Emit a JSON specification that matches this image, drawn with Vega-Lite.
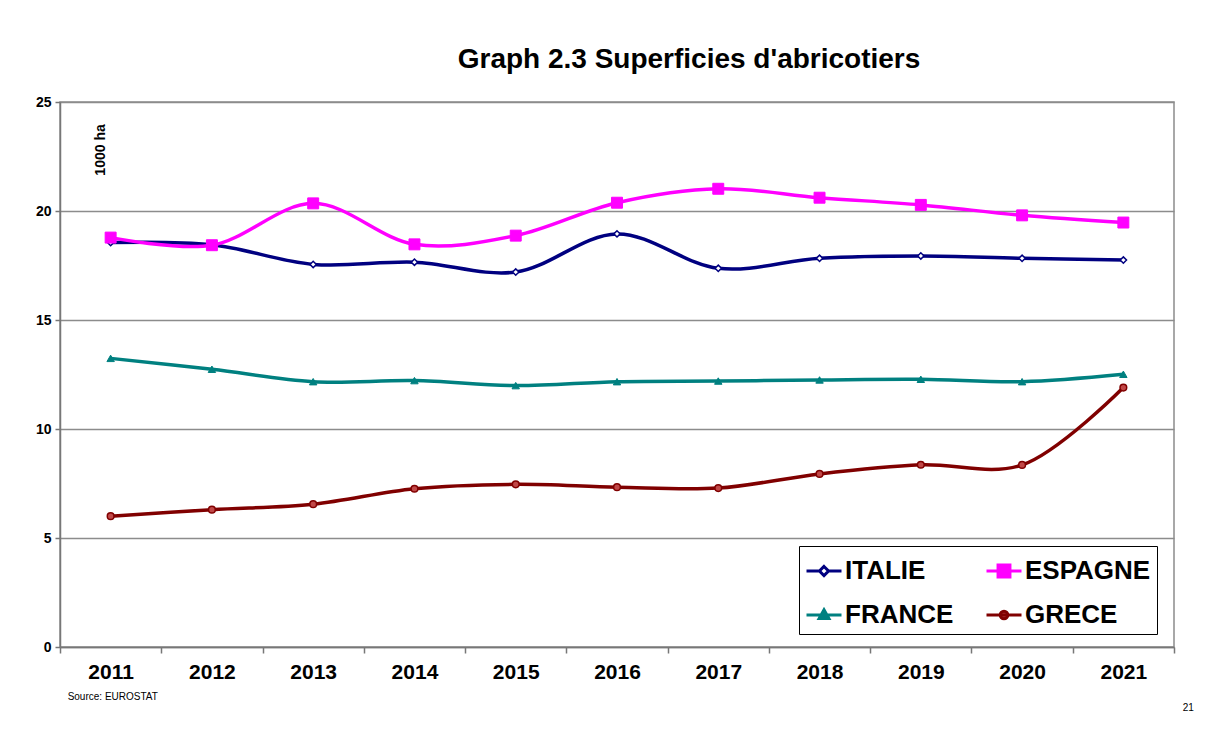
{
  "$schema": "https://vega.github.io/schema/vega-lite/v6.json",
  "width": 1114,
  "height": 545,
  "autosize": {"type": "none"},
  "padding": {"left": 60, "top": 102, "right": 40, "bottom": 86},
  "background": "white",
  "config": {
    "font": "Liberation Sans",
    "view": {"stroke": "#8c8c8c", "strokeWidth": 1.5}
  },
  "title": {
    "text": "Graph 2.3 Superficies d'abricotiers",
    "font": "Liberation Sans",
    "fontSize": 28,
    "fontWeight": "bold",
    "color": "black",
    "anchor": "middle",
    "frame": "group",
    "dx": 72,
    "offset": -1,
    "baseline": "alphabetic"
  },
  "datasets": {
    "surfaces": [
      {"annee": "2011", "pays": "ITALIE", "surface": 18.55},
      {"annee": "2012", "pays": "ITALIE", "surface": 18.45},
      {"annee": "2013", "pays": "ITALIE", "surface": 17.55},
      {"annee": "2014", "pays": "ITALIE", "surface": 17.65},
      {"annee": "2015", "pays": "ITALIE", "surface": 17.2},
      {"annee": "2016", "pays": "ITALIE", "surface": 18.95},
      {"annee": "2017", "pays": "ITALIE", "surface": 17.37},
      {"annee": "2018", "pays": "ITALIE", "surface": 17.83},
      {"annee": "2019", "pays": "ITALIE", "surface": 17.94},
      {"annee": "2020", "pays": "ITALIE", "surface": 17.83},
      {"annee": "2021", "pays": "ITALIE", "surface": 17.75},
      {"annee": "2011", "pays": "ESPAGNE", "surface": 18.78},
      {"annee": "2012", "pays": "ESPAGNE", "surface": 18.43},
      {"annee": "2013", "pays": "ESPAGNE", "surface": 20.35},
      {"annee": "2014", "pays": "ESPAGNE", "surface": 18.47},
      {"annee": "2015", "pays": "ESPAGNE", "surface": 18.87},
      {"annee": "2016", "pays": "ESPAGNE", "surface": 20.38},
      {"annee": "2017", "pays": "ESPAGNE", "surface": 21.02},
      {"annee": "2018", "pays": "ESPAGNE", "surface": 20.61},
      {"annee": "2019", "pays": "ESPAGNE", "surface": 20.28},
      {"annee": "2020", "pays": "ESPAGNE", "surface": 19.8},
      {"annee": "2021", "pays": "ESPAGNE", "surface": 19.47},
      {"annee": "2011", "pays": "FRANCE", "surface": 13.24},
      {"annee": "2012", "pays": "FRANCE", "surface": 12.74},
      {"annee": "2013", "pays": "FRANCE", "surface": 12.17},
      {"annee": "2014", "pays": "FRANCE", "surface": 12.22},
      {"annee": "2015", "pays": "FRANCE", "surface": 11.99},
      {"annee": "2016", "pays": "FRANCE", "surface": 12.17},
      {"annee": "2017", "pays": "FRANCE", "surface": 12.2},
      {"annee": "2018", "pays": "FRANCE", "surface": 12.25},
      {"annee": "2019", "pays": "FRANCE", "surface": 12.28},
      {"annee": "2020", "pays": "FRANCE", "surface": 12.17},
      {"annee": "2021", "pays": "FRANCE", "surface": 12.51},
      {"annee": "2011", "pays": "GRECE", "surface": 6.0},
      {"annee": "2012", "pays": "GRECE", "surface": 6.3},
      {"annee": "2013", "pays": "GRECE", "surface": 6.55},
      {"annee": "2014", "pays": "GRECE", "surface": 7.26},
      {"annee": "2015", "pays": "GRECE", "surface": 7.46},
      {"annee": "2016", "pays": "GRECE", "surface": 7.33},
      {"annee": "2017", "pays": "GRECE", "surface": 7.29},
      {"annee": "2018", "pays": "GRECE", "surface": 7.94},
      {"annee": "2019", "pays": "GRECE", "surface": 8.36},
      {"annee": "2020", "pays": "GRECE", "surface": 8.35},
      {"annee": "2021", "pays": "GRECE", "surface": 11.9}
    ],
    "annotations": [
      {"texte": "1000 ha", "annee": "2011", "valeur": 22.8},
      {"texte": "Source: EUROSTAT", "annee": "2011", "valeur": -2.3},
      {"texte": "21", "annee": "2021", "valeur": -2.8}
    ]
  },
  "layer": [
    {
      "data": {"name": "surfaces"},
      "mark": {"type": "line", "interpolate": "catmull-rom", "strokeWidth": 3.5},
      "encoding": {
        "x": {
          "field": "annee",
          "type": "ordinal",
          "scale": {"type": "band", "paddingInner": 0, "paddingOuter": 0},
          "axis": {
            "title": null,
            "tickBand": "extent",
            "labelAngle": 0,
            "labelFont": "Liberation Sans",
            "labelFontSize": 21,
            "labelFontWeight": "bold",
            "labelColor": "black",
            "labelPadding": 8,
            "tickSize": 6,
            "tickColor": "#777777",
            "tickWidth": 1.5,
            "domainColor": "#777777",
            "domainWidth": 1.5,
            "grid": false
          }
        },
        "y": {
          "field": "surface",
          "type": "quantitative",
          "scale": {"domain": [0, 25], "nice": false, "zero": true},
          "axis": {
            "title": null,
            "values": [0, 5, 10, 15, 20, 25],
            "grid": true,
            "gridColor": "#8c8c8c",
            "gridWidth": 1.5,
            "labelFont": "Liberation Sans",
            "labelFontSize": 14,
            "labelFontWeight": "bold",
            "labelColor": "black",
            "labelPadding": 4,
            "tickSize": 5,
            "tickColor": "#777777",
            "tickWidth": 1.5,
            "domainColor": "#777777",
            "domainWidth": 1.5
          }
        },
        "color": {
          "field": "pays",
          "type": "nominal",
          "scale": {
            "domain": ["ITALIE", "ESPAGNE", "FRANCE", "GRECE"],
            "range": ["#000080", "#ff00ff", "#008080", "#800000"]
          },
          "legend": {
            "orient": "none",
            "legendX": 739,
            "legendY": 444,
            "direction": "horizontal",
            "title": null,
            "columns": 2,
            "strokeColor": "black",
            "fillColor": "white",
            "padding": 6,
            "cornerRadius": 0,
            "labelFont": "Liberation Sans",
            "labelFontSize": 26,
            "labelFontWeight": "bold",
            "labelColor": "black",
            "labelOffset": 2,
            "labelLimit": 300,
            "columnPadding": 26,
            "rowPadding": 12,
            "symbolSize": 1225,
            "symbolStrokeWidth": 3,
            "encode": {
              "symbols": {
                "update": {
                  "shape": {"signal": "datum.value === 'ITALIE' ? 'M-1,0H-0.26M0.26,0H1M0,-0.26L0.26,0L0,0.26L-0.26,0Z' : datum.value === 'ESPAGNE' ? 'M-1,0H1M-0.34,-0.34H0.34V0.34H-0.34Z' : datum.value === 'FRANCE' ? 'M-1,0H1M0,-0.3L0.28,0.2L-0.28,0.2Z' : 'M-1,0H1M0.22,0A0.22,0.22,0,1,1,-0.22,0A0.22,0.22,0,1,1,0.22,0Z'"},
                  "fill": {"signal": "datum.value === 'ITALIE' ? 'white' : datum.value === 'ESPAGNE' ? '#ff00ff' : datum.value === 'FRANCE' ? '#008080' : '#b83a3a'"},
                  "stroke": {"signal": "datum.value === 'ITALIE' ? '#000080' : datum.value === 'ESPAGNE' ? '#ff00ff' : datum.value === 'FRANCE' ? '#008080' : '#800000'"},
                  "strokeWidth": {"value": 3},
                  "size": {"value": 1225},
                  "opacity": {"value": 1},
                  "fillOpacity": {"value": 1}
                }
              }
            }
          }
        }
      }
    },
    {
      "data": {"name": "surfaces"},
      "transform": [{"filter": "datum.pays === 'ITALIE'"}],
      "mark": {"type": "point", "shape": "diamond", "filled": false, "fill": "#ffffff", "stroke": "#000080", "strokeWidth": 1.5, "size": 40, "opacity": 1},
      "encoding": {
        "x": {"field": "annee", "type": "ordinal"},
        "y": {"field": "surface", "type": "quantitative"}
      }
    },
    {
      "data": {"name": "surfaces"},
      "transform": [{"filter": "datum.pays === 'ESPAGNE'"}],
      "mark": {"type": "point", "shape": "square", "filled": true, "fill": "#ff00ff", "stroke": "#ff00ff", "strokeWidth": 1, "size": 120, "opacity": 1},
      "encoding": {
        "x": {"field": "annee", "type": "ordinal"},
        "y": {"field": "surface", "type": "quantitative"}
      }
    },
    {
      "data": {"name": "surfaces"},
      "transform": [{"filter": "datum.pays === 'FRANCE'"}],
      "mark": {"type": "point", "shape": "triangle-up", "filled": true, "fill": "#008080", "stroke": "#008080", "strokeWidth": 1, "size": 55, "opacity": 1},
      "encoding": {
        "x": {"field": "annee", "type": "ordinal"},
        "y": {"field": "surface", "type": "quantitative"}
      }
    },
    {
      "data": {"name": "surfaces"},
      "transform": [{"filter": "datum.pays === 'GRECE'"}],
      "mark": {"type": "point", "shape": "circle", "filled": false, "fill": "#c04848", "stroke": "#800000", "strokeWidth": 1.5, "size": 45, "opacity": 1},
      "encoding": {
        "x": {"field": "annee", "type": "ordinal"},
        "y": {"field": "surface", "type": "quantitative"}
      }
    },
    {
      "data": {"name": "annotations"},
      "transform": [{"filter": "datum.texte === '1000 ha'"}],
      "mark": {"type": "text", "angle": 270, "font": "Liberation Sans", "fontSize": 14, "fontWeight": "bold", "color": "black", "align": "center", "baseline": "middle", "dy": -10},
      "encoding": {
        "x": {"field": "annee", "type": "ordinal"},
        "y": {"field": "valeur", "type": "quantitative"},
        "text": {"field": "texte"}
      }
    },
    {
      "data": {"name": "annotations"},
      "transform": [{"filter": "datum.texte === 'Source: EUROSTAT'"}],
      "mark": {"type": "text", "font": "Liberation Sans", "fontSize": 10, "color": "black", "align": "left", "baseline": "middle", "dx": -43},
      "encoding": {
        "x": {"field": "annee", "type": "ordinal"},
        "y": {"field": "valeur", "type": "quantitative"},
        "text": {"field": "texte"}
      }
    },
    {
      "data": {"name": "annotations"},
      "transform": [{"filter": "datum.texte === '21'"}],
      "mark": {"type": "text", "font": "Liberation Sans", "fontSize": 10, "color": "black", "align": "center", "baseline": "middle", "dx": 65},
      "encoding": {
        "x": {"field": "annee", "type": "ordinal"},
        "y": {"field": "valeur", "type": "quantitative"},
        "text": {"field": "texte"}
      }
    }
  ]
}
